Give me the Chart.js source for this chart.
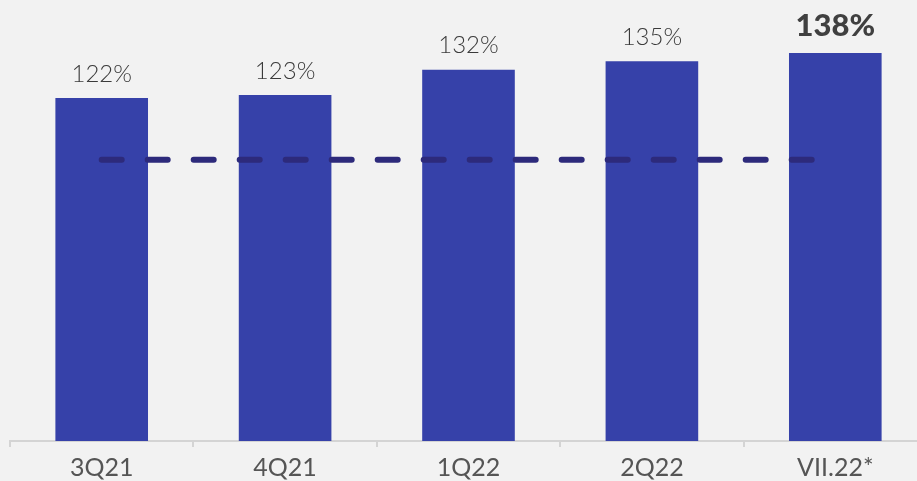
<!DOCTYPE html>
<html>
<head>
<meta charset="utf-8">
<script src="https://cdn.jsdelivr.net/npm/chart.js@4"></script>
<style>
  html, body { margin: 0; padding: 0; background: #f2f2f2; overflow: hidden; }
  #wrap { width: 927px; height: 489px; }
</style>
</head>
<body>
<div id="wrap"><canvas id="chart"></canvas></div>
<script>
// Datos
const categories = ['3Q21', '4Q21', '1Q22', '2Q22', 'VII.22*'];
const ratioValues = [122, 123, 132, 135, 138];
const thresholdValues = [100, 100, 100, 100, 100];

// Etiquetas de valor sobre las barras
const valueLabels = {
    id: 'valueLabels',
    afterDatasetsDraw(chart) {
        const ctx = chart.ctx;
        const meta = chart.getDatasetMeta(1);
        ctx.save();
        ctx.textAlign = 'center';
        ctx.textBaseline = 'middle';
        meta.data.forEach(function (bar, i) {
            const last = i === ratioValues.length - 1;
            ctx.fillStyle = last ? '#404040' : '#3a3a3a';
            ctx.font = last ? '900 31px Lato' : '300 24px Lato';
            ctx.fillText(ratioValues[i] + '%', bar.x, bar.y - (last ? 27 : 24));
        });
        ctx.restore();
    }
};

new Chart(document.getElementById('chart'), {
    data: {
        labels: categories,
        datasets: [{
            type: 'line',
            data: thresholdValues,
            borderColor: '#2d2a7b',
            borderWidth: 6,
            borderDash: [20, 26],
            borderCapStyle: 'round',
            pointRadius: 0,
            fill: false,
            order: 0
        }, {
            type: 'bar',
            data: ratioValues,
            backgroundColor: '#3641a9',
            barPercentage: 0.505,
            categoryPercentage: 1,
            order: 1
        }]
    },
    options: {
        responsive: true,
        maintainAspectRatio: false,
        animation: false,
        layout: { padding: { left: 10, right: 0, top: 0, bottom: 0 } },
        plugins: { legend: { display: false }, tooltip: { enabled: false } },
        scales: {
            x: {
                offset: true,
                grid: { offset: true, drawOnChartArea: false, drawTicks: true, tickLength: 6, color: '#d4d4d4', lineWidth: 2 },
                border: { color: '#d4d4d4', width: 2 },
                ticks: { color: '#555555', font: { family: 'Lato', size: 25 }, padding: 6 }
            },
            y: { display: false, min: 0, max: 156.8 }
        }
    },
    plugins: [valueLabels]
});
</script>
</body>
</html>
